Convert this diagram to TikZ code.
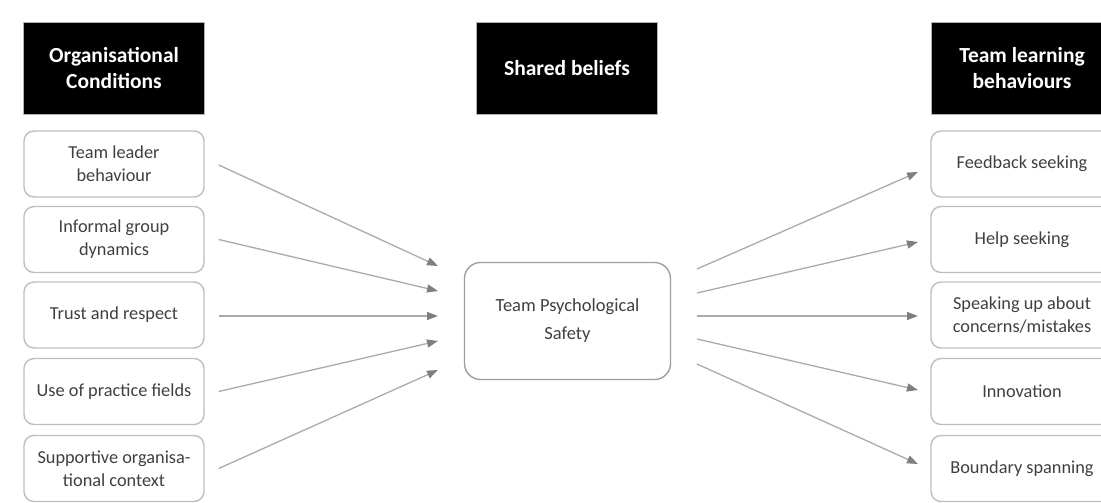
\documentclass[tikz,border=0pt]{standalone}
\usepackage{fontspec}
\setmainfont{Carlito}
\usetikzlibrary{arrows.meta}
\definecolor{boxline}{HTML}{BFBFBF}
\definecolor{txt}{HTML}{404040}
\definecolor{arr}{HTML}{ABABAB}
\definecolor{tipc}{HTML}{7F7F7F}
\tikzset{
  header/.style={fill=black, draw=gray!60, line width=0.8pt, text=white, font=\fontsize{21.5}{26}\selectfont\bfseries,
    minimum width=181pt, minimum height=92pt, align=center, inner sep=0pt},
  item/.style={draw=boxline, line width=1.4pt, rounded corners=10pt, text=txt,
    font=\fontsize{18.3}{23}\selectfont, minimum width=180pt, minimum height=66pt, align=center, inner sep=0pt},
  center/.style={draw=gray!75, line width=1.4pt, rounded corners=16pt, text=txt,
    font=\fontsize{18.5}{28}\selectfont, minimum width=206pt, minimum height=117pt, align=center, inner sep=0pt},
  link/.style={draw=arr, line width=1.3pt, -{Triangle[length=11pt,width=8pt,color=tipc]}}
}
\begin{document}
\begin{tikzpicture}[x=1pt,y=-1pt]
\useasboundingbox (0,0) rectangle (1101,503);
\fill[white] (0,0) rectangle (1101,503);
% headers
\node[header] (h1) at (114,68) {Organisational\\Conditions};
\node[header] (h2) at (567,68) {Shared beliefs};
\node[header] (h3) at (1022,68) {Team learning\\behaviours};
% left items
\node[item] (l1) at (114,164) {Team leader\\behaviour};
\node[item] (l2) at (114,239.5) {Informal group\\dynamics};
\node[item] (l3) at (114,315) {Trust and respect};
\node[item] (l4) at (114,391.5) {Use of practice fields};
\node[item] (l5) at (114,468.5) {Supportive organisa-\\tional context};
% centre
\node[center] (c) at (567.5,321) {Team Psychological\\Safety};
% right items
\node[item, minimum width=182pt] (r1) at (1022,164) {Feedback seeking};
\node[item, minimum width=182pt] (r2) at (1022,239.5) {Help seeking};
\node[item, minimum width=182pt] (r3) at (1022,315) {Speaking up about\\concerns/mistakes};
\node[item, minimum width=182pt] (r4) at (1022,391.5) {Innovation};
\node[item, minimum width=182pt] (r5) at (1022,468.5) {Boundary spanning};
% incoming arrow end points
\coordinate (i1) at (438,266);
\coordinate (i2) at (438,291);
\coordinate (i3) at (438,316);
\coordinate (i4) at (438,341);
\coordinate (i5) at (438,370);
% outgoing arrow start points
\coordinate (o1) at (697,269);
\coordinate (o2) at (697,293);
\coordinate (o3) at (697,316);
\coordinate (o4) at (697,339);
\coordinate (o5) at (697,364);
% outgoing arrow end points
\coordinate (e1) at (918,172);
\coordinate (e2) at (918,242);
\coordinate (e3) at (918,316);
\coordinate (e4) at (918,390);
\coordinate (e5) at (918,464);
\draw[link] ([xshift=14pt,yshift=-1pt]l1.east) -- (i1);
\draw[link] ([xshift=14pt]l2.east) -- (i2);
\draw[link] ([xshift=14pt,yshift=-1pt]l3.east) -- (i3);
\draw[link] ([xshift=14pt]l4.east) -- (i4);
\draw[link] ([xshift=14pt]l5.east) -- (i5);
\draw[link] (o1) -- (e1);
\draw[link] (o2) -- (e2);
\draw[link] (o3) -- (e3);
\draw[link] (o4) -- (e4);
\draw[link] (o5) -- (e5);
\end{tikzpicture}
\end{document}
